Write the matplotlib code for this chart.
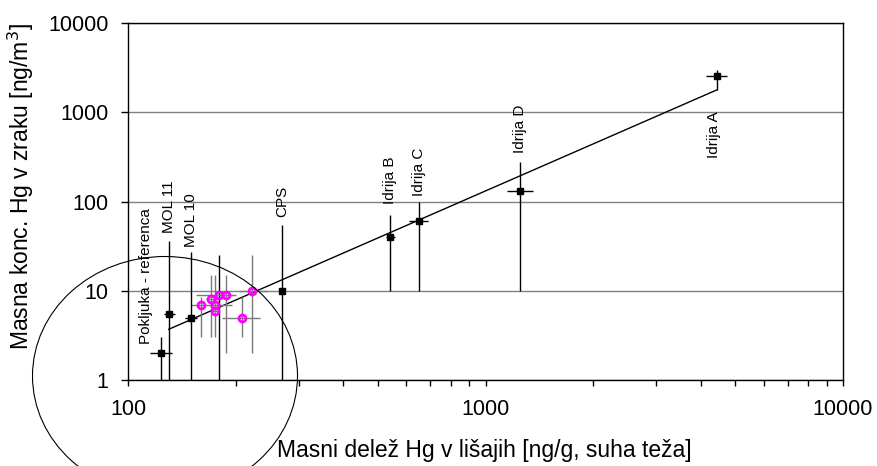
#!/usr/bin/env python3
"""Hg in lichens vs. Hg in air, log-log scatter with error bars and trend line."""

import matplotlib

matplotlib.use("Agg")
import matplotlib.pyplot as plt
from matplotlib.patches import Ellipse
from matplotlib.ticker import LogLocator, NullFormatter, FixedLocator, FixedFormatter

plt.rcParams["font.family"] = ["Liberation Sans", "DejaVu Sans"]

# labelled sites (black squares)
site_names = ["Pokljuka - referenca", "MOL 11", "MOL 10", "CPS",
              "Idrija B", "Idrija C", "Idrija D", "Idrija A"]
site_x = [124, 130, 150, 270, 541, 650, 1250, 4430]
site_y = [2.0, 5.5, 5.0, 10, 40, 60, 131, 2550]
site_x_lo = [115, 126, 144, 270, 527, 611, 1151, 4140]
site_x_hi = [133, 135, 156, 270, 558, 689, 1355, 4750]
site_y_lo = [0.5, 0.5, 0.5, 0.5, 10, 10, 10, 1780]
site_y_hi = [3.0, 36, 27, 54, 71, 100, 280, 3000]

# point hidden under the magenta group (only its error bar shows)
hidden_x = [180]
hidden_y = [9.0]
hidden_y_lo = [0.5]
hidden_y_hi = [25]

# magenta group
grp_x = [160, 171, 175, 175, 180, 188, 208, 222]
grp_y = [7.0, 8.0, 7.0, 6.0, 9.0, 9.0, 5.0, 10.0]
grp_x_lo = [150, 165, 168, 172, 155, 180, 183, 205]
grp_x_hi = [195, 180, 182, 178, 200, 197, 234, 245]
grp_y_lo = [3.0, 3.0, 3.0, 6.0, 9.0, 2.0, 3.0, 2.0]
grp_y_hi = [8.5, 15, 15, 6.0, 9.0, 15, 8.6, 25]

# power-law trend line end points
fit_x = [130, 4430]
fit_y = [3.7, 1775]


def asym(vals, lo, hi):
    return [[v - a for v, a in zip(vals, lo)], [b - v for v, b in zip(vals, hi)]]


fig = plt.figure(figsize=(8.77, 4.66), dpi=100)
ax = fig.add_axes([128 / 877, 1 - 380 / 466, 715 / 877, 357 / 466])
ax.set_xscale("log")
ax.set_yscale("log")
ax.set_xlim(100, 10000)
ax.set_ylim(1, 10000)

ax.grid(True, axis="y", which="major", color="#808080", lw=1.0)
ax.set_axisbelow(True)

ax.plot(fit_x, fit_y, color="black", lw=1.0, zorder=3)

ax.errorbar(hidden_x, hidden_y, yerr=asym(hidden_y, hidden_y_lo, hidden_y_hi),
            fmt="none", ecolor="black", elinewidth=1.0, capsize=0, zorder=2)

ax.errorbar(grp_x, grp_y,
            xerr=asym(grp_x, grp_x_lo, grp_x_hi),
            yerr=asym(grp_y, grp_y_lo, grp_y_hi),
            fmt="o", ms=5, mfc="none", mec="#ff00ff", mew=2.0,
            ecolor="#7a7a7a", elinewidth=1.0, capsize=0, zorder=4)

ax.errorbar(site_x, site_y,
            xerr=asym(site_x, site_x_lo, site_x_hi),
            yerr=asym(site_y, site_y_lo, site_y_hi),
            fmt="s", ms=5, color="black", ecolor="black",
            elinewidth=1.0, capsize=0, zorder=5)

# rotated site labels: (dx, dy) offset in points from the top of the error bar
label_offsets = [(-11, -5), (0, 6), (0, 4), (0, 6), (0, 8), (0, 4), (0, 6), (-2, -30)]
label_va = ["bottom", "bottom", "bottom", "bottom", "bottom", "bottom", "bottom", "top"]
for name, x, top, (dx, dy), va in zip(site_names, site_x, site_y_hi, label_offsets, label_va):
    ax.annotate(name, xy=(x, top), xytext=(dx, dy), textcoords="offset points",
                rotation=90, ha="center", va=va, fontsize=11)

ax.xaxis.set_major_locator(FixedLocator([100, 1000, 10000]))
ax.xaxis.set_major_formatter(FixedFormatter(["100", "1000", "10000"]))
ax.xaxis.set_minor_locator(LogLocator(base=10, subs=range(2, 10)))
ax.xaxis.set_minor_formatter(NullFormatter())
ax.yaxis.set_major_locator(FixedLocator([1, 10, 100, 1000, 10000]))
ax.yaxis.set_major_formatter(FixedFormatter(["1", "10", "100", "1000", "10000"]))
ax.yaxis.set_minor_locator(FixedLocator([]))

ax.tick_params(axis="x", which="major", length=4, width=1, pad=10, labelsize=15.5)
ax.tick_params(axis="x", which="minor", length=4, width=1)
ax.tick_params(axis="y", which="major", length=5, width=1, pad=9, labelsize=15.5)
for side in ax.spines.values():
    side.set_linewidth(1.0)

fig.text(484.7 / 877, 1 - 451 / 466, "Masni delež Hg v lišajih [ng/g, suha teža]",
         ha="center", va="center", fontsize=16.5)
fig.text(21 / 877, 1 - 187 / 466, "Masna konc. Hg v zraku [ng/m$^3$]",
         ha="center", va="center", rotation=90, fontsize=16.5)

fig.patches.append(Ellipse((165 / 877, 1 - 376 / 466), 265 / 877, 239 / 466,
                           transform=fig.transFigure, fill=False,
                           edgecolor="black", lw=0.8))

fig.savefig("out.png", dpi=100)
